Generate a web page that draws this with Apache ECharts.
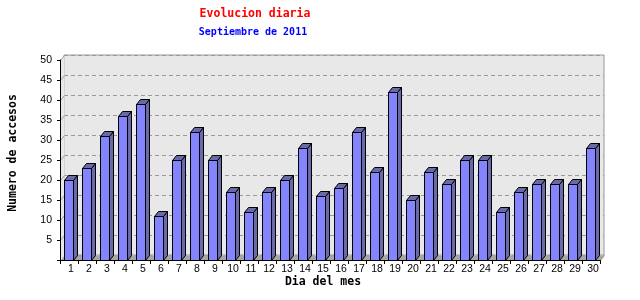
<!DOCTYPE html>
<html>
<head>
<meta charset="utf-8">
<script src="https://cdn.jsdelivr.net/npm/echarts@6/dist/echarts.min.js"></script>
<style>html,body{margin:0;padding:0;background:#fff}#c{width:640px;height:300px}</style>
</head>
<body>
<div id="c"></div>
<script>
const dias = ['1','2','3','4','5','6','7','8','9','10','11','12','13','14','15','16','17','18','19','20','21','22','23','24','25','26','27','28','29','30'];
const accesos = [20,23,31,36,39,11,25,32,25,17,12,17,20,28,16,18,32,22,42,15,22,19,25,25,12,17,19,19,19,28];
const yMin = 0, yMax = 50, yStep = 5;
const titulo = 'Evolucion diaria';
const subtitulo = 'Septiembre de 2011';
const nombreX = 'Dia del mes';
const nombreY = 'Numero de accesos';

const DX = 4, DY = -5;
const FRONT = '#8484ff', SIDE = '#6a6aa8';

const chart = echarts.init(document.getElementById('c'), null, {renderer: 'canvas'});

function renderDecor(params, api) {
  const cs = params.coordSys;
  const L = cs.x + 0.5, R = cs.x + cs.width + 0.5, T = cs.y + 0.5, B = cs.y + cs.height + 0.5;
  const children = [
    {type: 'polygon', shape: {points: [[L, T], [L + DX, T + DY], [L + DX, B + DY], [L, B]]}, style: {fill: '#e8e8e8'}},
    {type: 'polygon', shape: {points: [[L, B], [L + DX, B + DY], [R + DX, B + DY], [R, B]]}, style: {fill: '#a6a6a6'}},
    {type: 'line', shape: {x1: R, y1: B, x2: R + DX, y2: B + DY}, style: {stroke: '#999', lineWidth: 1}}
  ];
  for (let v = yMin + yStep; v <= yMax; v += yStep) {
    const y = Math.round(api.coord([0, v])[1]) + 0.5;
    children.push({type: 'line', shape: {x1: L, y1: y, x2: L + DX, y2: y + DY}, style: {stroke: '#999', lineWidth: 1}});
  }
  return {type: 'group', children: children};
}

function renderBar(params, api) {
  const idx = api.value(0), v = api.value(1);
  const top = api.coord([idx, v]);
  const base = api.coord([idx, 0]);
  const w = Math.round(api.size([1, 0])[0] * 0.5);
  const x0 = Math.round(top[0]) - 4.5;
  const x1 = x0 + w;
  const yt = Math.round(top[1]) + 0.5;
  const yb = Math.round(base[1]) + 0.5;
  const st = (f) => ({fill: f, stroke: '#000', lineWidth: 1});
  return {type: 'group', children: [
    {type: 'polygon', shape: {points: [[x1, yt], [x1 + DX, yt + DY], [x1 + DX, yb + DY], [x1, yb]]}, style: st(SIDE)},
    {type: 'polygon', shape: {points: [[x0, yt], [x0 + DX, yt + DY], [x1 + DX, yt + DY], [x1, yt]]}, style: st(SIDE)},
    {type: 'rect', shape: {x: x0, y: yt, width: w, height: yb - yt}, style: st(FRONT)}
  ]};
}

const option = {
  backgroundColor: '#ffffff',
  animation: false,
  grid: [
    {left: 60, right: 40, top: 60, bottom: 40, show: false},
    {left: 64, right: 36, top: 55, bottom: 45, show: true, backgroundColor: '#e8e8e8', borderColor: '#999', borderWidth: 1}
  ],
  xAxis: [
    {type: 'category', gridIndex: 0, data: dias, boundaryGap: true, z: 5,
     axisLine: {show: true, lineStyle: {color: '#000', width: 1}},
     axisTick: {show: true, length: 4, alignWithLabel: false, lineStyle: {color: '#000'}},
     axisLabel: {color: '#000', fontFamily: 'Liberation Sans', fontSize: 10.5, margin: 4, padding: [0, 0, 0, 4], interval: 0},
     splitLine: {show: false}},
    {type: 'category', gridIndex: 1, data: dias, show: false}
  ],
  yAxis: [
    {type: 'value', gridIndex: 0, min: yMin, max: yMax, interval: yStep, z: 5,
     axisLine: {show: true, lineStyle: {color: '#000', width: 1}},
     axisTick: {show: true, length: 3, lineStyle: {color: '#000'}},
     axisLabel: {color: '#000', fontFamily: 'Liberation Sans', fontSize: 10.5, margin: 8, padding: [5, 0, 0, 0],
                 formatter: (v) => v === 0 ? '' : String(v)},
     splitLine: {show: false}},
    {type: 'value', gridIndex: 1, min: yMin, max: yMax, interval: yStep,
     axisLine: {show: false}, axisTick: {show: false}, axisLabel: {show: false},
     splitLine: {show: true, lineStyle: {color: '#999', width: 1, type: [4, 3]}}}
  ],
  series: [
    {type: 'custom', xAxisIndex: 0, yAxisIndex: 0, z: 1, silent: true, renderItem: renderDecor, data: [[0, 0]]},
    {type: 'custom', xAxisIndex: 0, yAxisIndex: 0, z: 2, renderItem: renderBar,
     data: dias.map((d, i) => [i, accesos[i]])}
  ],
  graphic: [
    {type: 'text', x: 255, y: 14, style: {text: titulo, fill: '#ff0000', fontFamily: 'DejaVu Sans Mono', fontWeight: 'bold', fontSize: 11.5, align: 'center', verticalAlign: 'middle'}},
    {type: 'text', x: 253, y: 32, style: {text: subtitulo, fill: '#0000ff', fontFamily: 'DejaVu Sans Mono', fontWeight: 'bold', fontSize: 10, align: 'center', verticalAlign: 'middle'}},
    {type: 'text', x: 323, y: 282, style: {text: nombreX, fill: '#000', fontFamily: 'DejaVu Sans Mono', fontWeight: 'bold', fontSize: 11.5, align: 'center', verticalAlign: 'middle'}},
    {type: 'text', x: 13, y: 153, rotation: Math.PI / 2, style: {text: nombreY, fill: '#000', fontFamily: 'DejaVu Sans Mono', fontWeight: 'bold', fontSize: 11.5, align: 'center', verticalAlign: 'middle'}}
  ]
};
chart.setOption(option);
</script>
</body>
</html>
